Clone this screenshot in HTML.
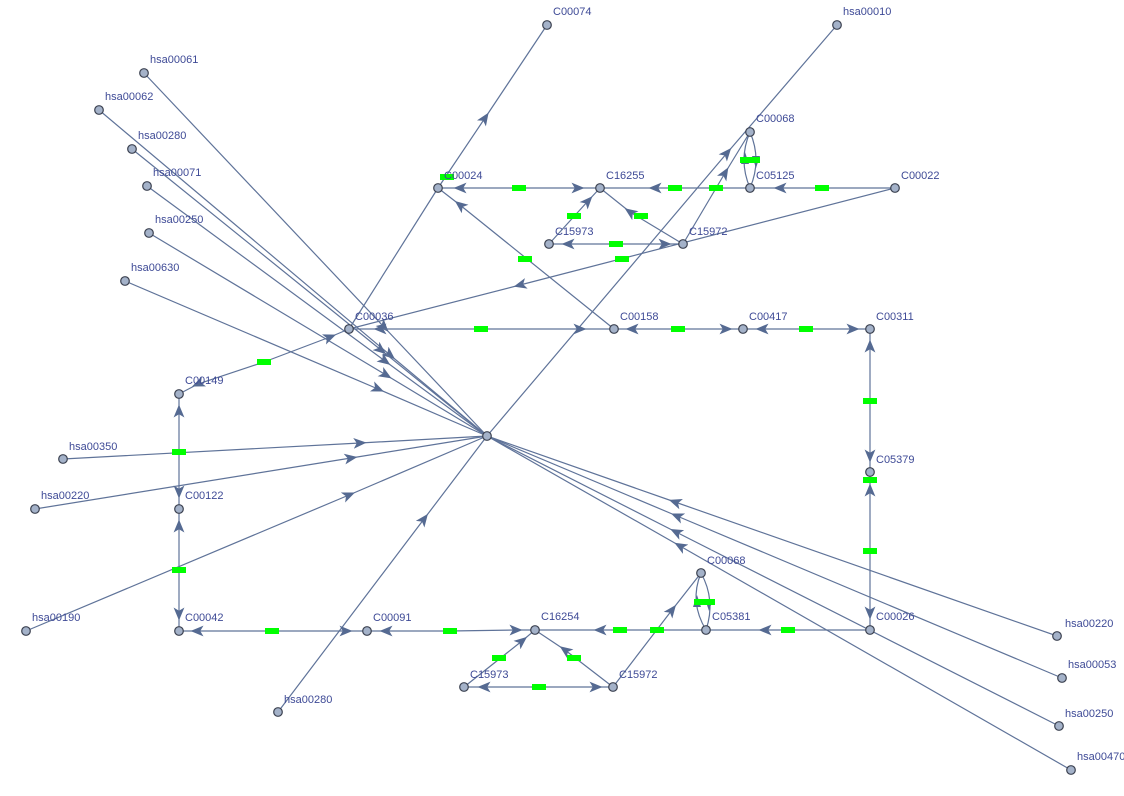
<!DOCTYPE html>
<html><head><meta charset="utf-8"><style>
html,body{margin:0;padding:0;background:#fff;}
svg{display:block;}
text{font-family:"Liberation Sans",sans-serif;font-size:11px;fill:#3e4a96;}
</style></head><body>
<svg width="1124" height="796" viewBox="0 0 1124 796" xmlns="http://www.w3.org/2000/svg">
<defs>
<marker id="a" viewBox="0 0 12 10" refX="6" refY="5" markerWidth="13" markerHeight="11" markerUnits="userSpaceOnUse" orient="auto">
<path d="M0,0 L12,5 L0,10 L3,5 z" fill="#556a92"/>
</marker>
</defs>
<g fill="none" stroke="#5f7399" stroke-width="1.2" marker-mid="url(#a)">
<path d="M144,73 L384,327 L487,436"/>
<path d="M99,110 L390,355 L487,436"/>
<path d="M132,149 L381,350 L487,436"/>
<path d="M147,186 L385,361 L487,436"/>
<path d="M149,233 L386,375 L487,436"/>
<path d="M125,281 L378,389 L487,436"/>
<path d="M63,459 L360,443 L487,436"/>
<path d="M35,509 L351,458 L487,436"/>
<path d="M26,631 L349,495 L487,436"/>
<path d="M278,712 L424,519 L487,436"/>
<path d="M1057,636 L675,502 L487,436"/>
<path d="M1062,678 L677,516 L487,436"/>
<path d="M1059,726 L676,532 L487,436"/>
<path d="M1071,770 L680,546 L487,436"/>
<path d="M487,436 L727,153 L837,25"/>
<path d="M438,188 L485,118 L547,25"/>
<path d="M349,329 L438,188" marker-mid="none"/>
<path d="M895,188 L520,285 L349,329"/>
<path d="M614,329 L460,205 L438,188"/>
<path d="M519,188 L460,188 L438,188"/><path d="M519,188 L578,188 L600,188"/>
<path d="M750,188 L655,188 L600,188"/>
<path d="M895,188 L780,188 L750,188"/>
<path d="M683,244 L725,173 L750,132"/>
<path d="M549,244 L588,201 L600,188"/>
<path d="M683,244 L630,212 L600,188"/>
<path d="M616,244 L568,244 L549,244"/><path d="M616,244 L665,244 L683,244"/>
<path d="M750,132 Q738,160 750,188" marker-mid="none"/>
<path d="M750,188 Q762,160 750,132" marker-mid="none"/>
<path d="M481,329 L380,329 L349,329"/><path d="M481,329 L580,329 L614,329"/>
<path d="M678,329 L632,329 L614,329"/><path d="M678,329 L726,329 L743,329"/>
<path d="M806,329 L762,329 L743,329"/><path d="M806,329 L853,329 L870,329"/>
<path d="M870,401 L870,346 L870,329"/><path d="M870,401 L870,456 L870,472"/>
<path d="M870,551 L870,490 L870,472"/><path d="M870,551 L870,613 L870,630"/>
<path d="M264,362 L198,384 L179,394"/><path d="M264,362 L330,337 L349,329"/>
<path d="M179,452 L179,411 L179,394"/><path d="M179,452 L179,492 L179,509"/>
<path d="M179,570 L179,526 L179,509"/><path d="M179,570 L179,614 L179,631"/>
<path d="M272,631 L197,631 L179,631"/><path d="M272,631 L346,631 L367,631"/>
<path d="M450,631 L386,631 L367,631"/><path d="M450,631 L516,630 L535,630"/>
<path d="M706,630 L600,630 L535,630"/>
<path d="M870,630 L765,630 L706,630"/>
<path d="M613,687 L672,610 L701,573"/>
<path d="M464,687 L522,641 L535,630"/>
<path d="M613,687 L565,650 L535,630"/>
<path d="M539,687 L484,687 L464,687"/><path d="M539,687 L596,687 L613,687"/>
<path d="M701,573 Q689,602 706,630" marker-mid="none"/>
<path d="M706,630 Q716,600 701,573" marker-mid="none"/>
</g>
<g fill="#556a92">
<path d="M745,152 L749,164 L741,164 z"/>
<path d="M756,168 L752,156 L760,156 z"/>
<path d="M697,595 L701,607 L693,607 z"/>
<path d="M709,611 L705,599 L713,599 z"/>
</g>
<g fill="#00ff00">
<rect x="440" y="174" width="14" height="6"/><rect x="512" y="185" width="14" height="6"/>
<rect x="668" y="185" width="14" height="6"/><rect x="709" y="185" width="14" height="6"/>
<rect x="815" y="185" width="14" height="6"/><rect x="740" y="157" width="20" height="6"/>
<rect x="567" y="213" width="14" height="6"/><rect x="634" y="213" width="14" height="6"/>
<rect x="609" y="241" width="14" height="6"/><rect x="518" y="256" width="14" height="6"/>
<rect x="615" y="256" width="14" height="6"/><rect x="474" y="326" width="14" height="6"/>
<rect x="671" y="326" width="14" height="6"/><rect x="799" y="326" width="14" height="6"/>
<rect x="257" y="359" width="14" height="6"/><rect x="863" y="398" width="14" height="6"/>
<rect x="172" y="449" width="14" height="6"/><rect x="863" y="477" width="14" height="6"/>
<rect x="863" y="548" width="14" height="6"/><rect x="172" y="567" width="14" height="6"/>
<rect x="265" y="628" width="14" height="6"/><rect x="443" y="628" width="14" height="6"/>
<rect x="613" y="627" width="14" height="6"/><rect x="650" y="627" width="14" height="6"/>
<rect x="781" y="627" width="14" height="6"/><rect x="694" y="599" width="21" height="6"/>
<rect x="492" y="655" width="14" height="6"/><rect x="567" y="655" width="14" height="6"/>
<rect x="532" y="684" width="14" height="6"/>
</g>
<g fill="#a4b2c9" stroke="#3b4150" stroke-width="1.2">
<circle cx="487" cy="436" r="4.3"/><circle cx="547" cy="25" r="4.3"/><circle cx="837" cy="25" r="4.3"/>
<circle cx="144" cy="73" r="4.3"/><circle cx="99" cy="110" r="4.3"/><circle cx="132" cy="149" r="4.3"/>
<circle cx="147" cy="186" r="4.3"/><circle cx="149" cy="233" r="4.3"/><circle cx="125" cy="281" r="4.3"/>
<circle cx="750" cy="132" r="4.3"/><circle cx="438" cy="188" r="4.3"/><circle cx="600" cy="188" r="4.3"/>
<circle cx="750" cy="188" r="4.3"/><circle cx="895" cy="188" r="4.3"/><circle cx="549" cy="244" r="4.3"/>
<circle cx="683" cy="244" r="4.3"/><circle cx="349" cy="329" r="4.3"/><circle cx="614" cy="329" r="4.3"/>
<circle cx="743" cy="329" r="4.3"/><circle cx="870" cy="329" r="4.3"/><circle cx="179" cy="394" r="4.3"/>
<circle cx="63" cy="459" r="4.3"/><circle cx="870" cy="472" r="4.3"/><circle cx="35" cy="509" r="4.3"/>
<circle cx="179" cy="509" r="4.3"/><circle cx="701" cy="573" r="4.3"/><circle cx="26" cy="631" r="4.3"/>
<circle cx="179" cy="631" r="4.3"/><circle cx="367" cy="631" r="4.3"/><circle cx="535" cy="630" r="4.3"/>
<circle cx="706" cy="630" r="4.3"/><circle cx="870" cy="630" r="4.3"/><circle cx="1057" cy="636" r="4.3"/>
<circle cx="1062" cy="678" r="4.3"/><circle cx="464" cy="687" r="4.3"/><circle cx="613" cy="687" r="4.3"/>
<circle cx="278" cy="712" r="4.3"/><circle cx="1059" cy="726" r="4.3"/><circle cx="1071" cy="770" r="4.3"/>
</g>
<g>
<text x="553" y="15">C00074</text><text x="843" y="15">hsa00010</text>
<text x="150" y="63">hsa00061</text><text x="105" y="100">hsa00062</text>
<text x="138" y="139">hsa00280</text><text x="153" y="176">hsa00071</text>
<text x="155" y="223">hsa00250</text><text x="131" y="271">hsa00630</text>
<text x="756" y="122">C00068</text><text x="444" y="179">C00024</text>
<text x="606" y="179">C16255</text><text x="756" y="179">C05125</text>
<text x="901" y="179">C00022</text><text x="555" y="235">C15973</text>
<text x="689" y="235">C15972</text><text x="355" y="320">C00036</text>
<text x="620" y="320">C00158</text><text x="749" y="320">C00417</text>
<text x="876" y="320">C00311</text><text x="185" y="384">C00149</text>
<text x="69" y="450">hsa00350</text><text x="876" y="463">C05379</text>
<text x="41" y="499">hsa00220</text><text x="185" y="499">C00122</text>
<text x="707" y="564">C00068</text><text x="32" y="621">hsa00190</text>
<text x="185" y="621">C00042</text><text x="373" y="621">C00091</text>
<text x="541" y="620">C16254</text><text x="712" y="620">C05381</text>
<text x="876" y="620">C00026</text><text x="1065" y="627">hsa00220</text>
<text x="1068" y="668">hsa00053</text><text x="470" y="678">C15973</text>
<text x="619" y="678">C15972</text><text x="284" y="703">hsa00280</text>
<text x="1065" y="717">hsa00250</text><text x="1077" y="760">hsa00470</text>
</g>
</svg>
</body></html>
